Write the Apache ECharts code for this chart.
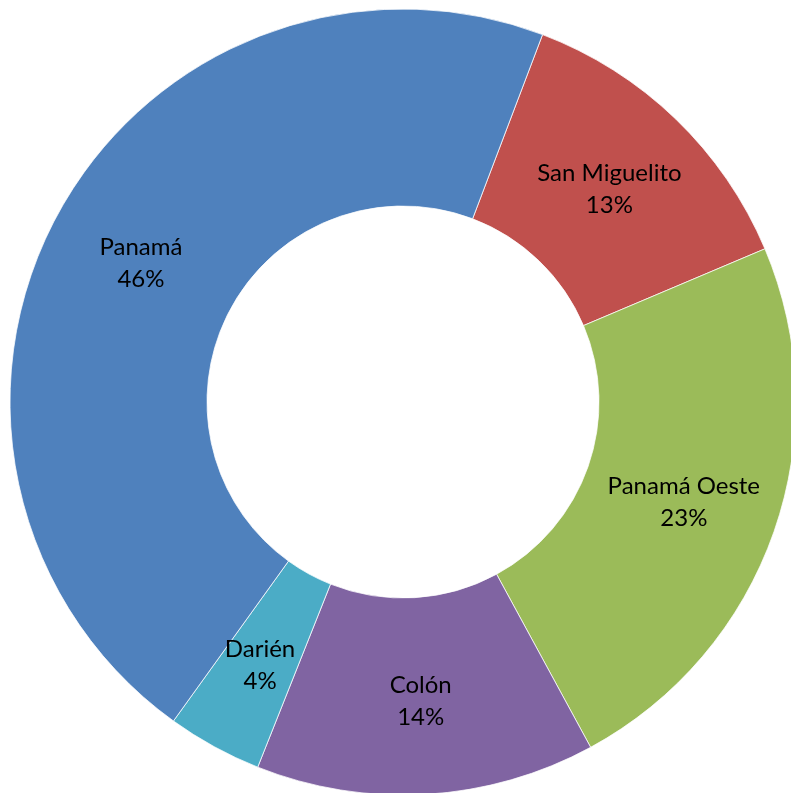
<!DOCTYPE html>
<html>
<head>
<meta charset="utf-8">
<script src="https://cdn.jsdelivr.net/npm/echarts@6/dist/echarts.min.js"></script>
<style>
html,body{margin:0;padding:0;background:#fff;}
#chart{width:791px;height:793px;}
</style>
</head>
<body>
<div id="chart"></div>
<script>
const categories = ["San Miguelito", "Panamá Oeste", "Colón", "Darién", "Panamá"];
const values = [12.85, 23.45, 13.95, 3.9, 45.85];
const colors = ["#C0504D", "#9BBB59", "#8064A2", "#4BACC6", "#4F81BD"];

const chart = echarts.init(document.getElementById('chart'), null, {renderer: 'canvas'});
chart.setOption({
  animation: false,
  backgroundColor: '#ffffff',
  series: [{
    type: 'pie',
    center: [403, 402],
    radius: [196, 393],
    startAngle: 69.2,
    clockwise: true,
    avoidLabelOverlap: false,
    percentPrecision: 0,
    itemStyle: { borderColor: '#ffffff', borderWidth: 0.75 },
    label: {
      show: true,
      position: 'inside',
      formatter: '{b}\n{d}%',
      color: '#000000',
      fontFamily: 'Lato',
      fontSize: 24,
      lineHeight: 32,
      offset: [0, 2]
    },
    labelLine: { show: false },
    emphasis: { disabled: true },
    data: categories.map((c, i) => ({ name: c, value: values[i], itemStyle: { color: colors[i] } }))
  }]
});
</script>
</body>
</html>
